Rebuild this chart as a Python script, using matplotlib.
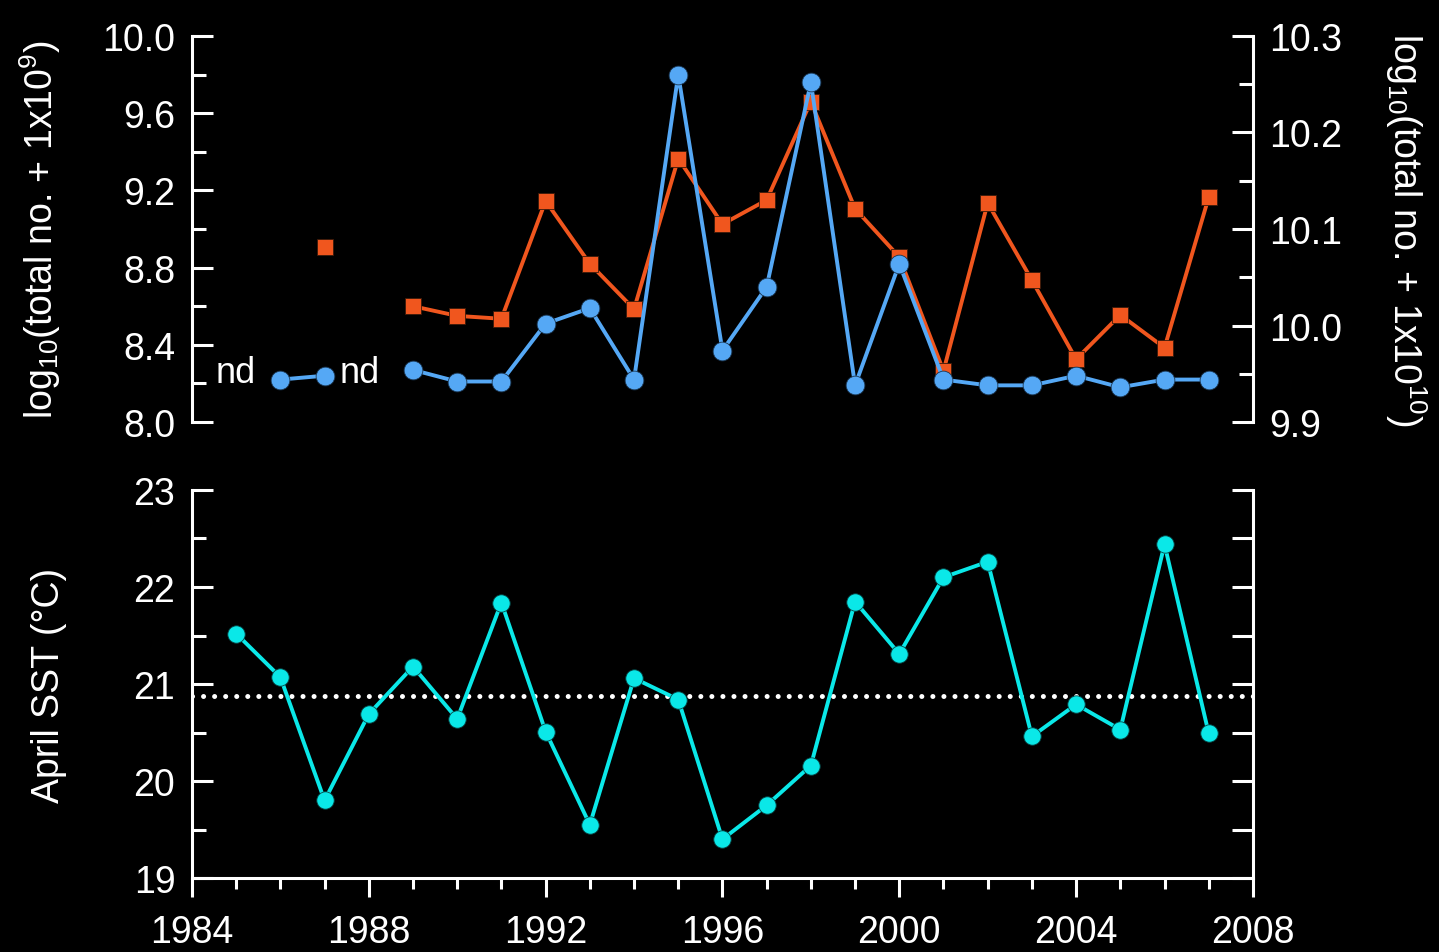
import matplotlib
matplotlib.use("Agg")
import matplotlib.pyplot as plt
from matplotlib.ticker import MultipleLocator, FormatStrFormatter
import numpy as np

plt.rcParams['font.family'] = ['Liberation Sans', 'DejaVu Sans']
plt.rcParams['mathtext.fontset'] = 'custom'
plt.rcParams['mathtext.rm'] = 'Liberation Sans'
plt.rcParams['mathtext.it'] = 'Liberation Sans'

years = np.arange(1985, 2008)
nan = np.nan
# blue circles, left axis (1985 and 1988 = nd)
blue = [nan, 8.22, 8.24, nan, 8.27, 8.21, 8.21, 8.51, 8.59, 8.22, 9.80, 8.37,
        8.70, 9.76, 8.19, 8.82, 8.22, 8.19, 8.19, 8.24, 8.18, 8.22, 8.22]
# orange squares, right axis
orange = [nan, nan, 10.081, nan, 10.020, 10.010, 10.007, 10.129, 10.064, 10.017,
          10.173, 10.105, 10.130, 10.232, 10.121, 10.071, 9.953, 10.127, 10.047,
          9.965, 10.011, 9.977, 10.133]
sst = [21.52, 21.07, 19.80, 20.69, 21.18, 20.64, 21.84, 20.51, 19.55, 21.06,
       20.84, 19.40, 19.75, 20.16, 21.85, 21.31, 22.10, 22.26, 20.46, 20.79,
       20.53, 22.44, 20.49]
sst_mean = 20.88
nd_x = [1985, 1987.8]

blue_c = '#55a8f5'
orange_c = '#f0561e'
cyan_c = '#0ae8e8'
fs = 27

fig = plt.figure(figsize=(14.39, 9.53), dpi=100, facecolor='black')
ax1 = fig.add_axes([0.1334, 0.5561, 0.7373, 0.4051])
ax2 = ax1.twinx()
ax3 = fig.add_axes([0.1334, 0.0776, 0.7373, 0.4072])

for a in (ax1, ax2, ax3):
    a.set_facecolor('none')
    for s in a.spines.values():
        s.set_color('white')
        s.set_linewidth(2.2)
    a.tick_params(colors='white', labelsize=fs, width=2.2)
    a.tick_params(which='minor', colors='white', width=2.2)
ax3.patch.set_facecolor('black')

# top panel
ax2.plot(years, orange, '-s', color=orange_c, lw=2.8, ms=11,
         mec='#3a1a0a', mew=0.6, zorder=3)
ax1.set_zorder(3)
ax1.patch.set_visible(False)
ax1.plot(years, blue, '-o', color=blue_c, lw=2.8, ms=13.5,
         mec='#1a3550', mew=0.6, zorder=4)
for x in nd_x:
    ax1.text(x, 8.255, 'nd', color='white', fontsize=fs - 1,
             ha='center', va='center')

ax1.set_xlim(1984, 2008)
ax1.set_ylim(8.0, 10.0)
ax2.set_ylim(9.9, 10.3)
ax1.yaxis.set_major_locator(MultipleLocator(0.4))
ax1.yaxis.set_minor_locator(MultipleLocator(0.2))
ax1.yaxis.set_major_formatter(FormatStrFormatter('%.1f'))
ax2.yaxis.set_major_locator(MultipleLocator(0.1))
ax2.yaxis.set_minor_locator(MultipleLocator(0.05))
ax2.yaxis.set_major_formatter(FormatStrFormatter('%.1f'))
for a in (ax1, ax2):
    a.spines['top'].set_visible(False)
    a.spines['bottom'].set_visible(False)
    a.tick_params(axis='x', bottom=False, labelbottom=False)
ax1.spines['right'].set_visible(False)
ax2.spines['left'].set_visible(False)
for a in (ax1, ax2):
    a.tick_params(axis='y', direction='in', length=15, pad=12)
    a.tick_params(axis='y', which='minor', direction='in', length=10)
ax1.set_ylabel(r'log$_{10}$(total no. + 1x10$^{9}$)', color='white',
               fontsize=fs, labelpad=28)
ax2.set_ylabel(r'log$_{10}$(total no. + 1x10$^{10}$)', color='white',
               fontsize=fs, rotation=270, labelpad=62)

# bottom panel
ax3.plot(years, sst, '-o', color=cyan_c, lw=2.8, ms=12.5, mec='#064848',
         mew=0.6, zorder=3)
ax3.axhline(sst_mean, color='white', lw=3.6, linestyle=(0, (0.01, 2.2)),
            dash_capstyle='round', zorder=2)
ax3.set_xlim(1984, 2008)
ax3.set_ylim(19, 23)
ax3.xaxis.set_major_locator(MultipleLocator(4))
ax3.xaxis.set_minor_locator(MultipleLocator(1))
ax3.yaxis.set_major_locator(MultipleLocator(1))
ax3.yaxis.set_minor_locator(MultipleLocator(0.5))
ax3.spines['top'].set_visible(False)
ax3.tick_params(axis='x', direction='out', length=14, pad=12)
ax3.tick_params(axis='x', which='minor', direction='out', length=8)
ax3.tick_params(axis='y', direction='in', length=15, pad=12, right=False)
ax3.tick_params(axis='y', which='minor', direction='in', length=10, right=False)
ax3.set_ylabel('April SST (°C)', color='white', fontsize=fs, labelpad=48)

# right-side ticks of bottom panel, all the same length
ax3r = ax3.twinx()
ax3r.set_ylim(19, 23)
ax3r.yaxis.set_major_locator(MultipleLocator(0.5))
ax3r.tick_params(axis='y', direction='in', length=15, width=2.2,
                 colors='white', labelright=False)
ax3r.tick_params(axis='y', which='minor', right=False)
for s in ax3r.spines.values():
    s.set_visible(False)

fig.savefig('out.png', dpi=100, facecolor='black')
